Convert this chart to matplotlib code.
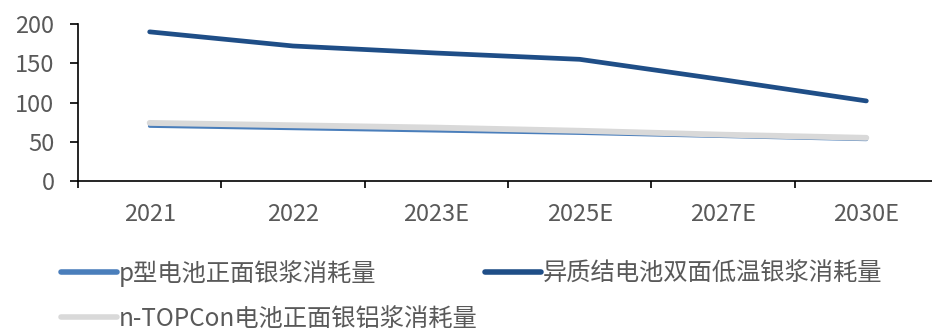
"""Silver paste consumption by cell technology, 2021-2030E."""

import matplotlib.pyplot as plt
import numpy as np

plt.rcParams["font.family"] = ["Noto Sans CJK SC", "DejaVu Sans"]

years = ["2021", "2022", "2023E", "2025E", "2027E", "2030E"]
p_type = [70, 67, 64, 61, 57, 53]
hjt = [190, 172, 163, 155, 129, 102]
topcon = [74, 71, 68, 64, 59, 55]

labels = ["p型电池正面银浆消耗量", "异质结电池双面低温银浆消耗量", "n-TOPCon电池正面银铝浆消耗量"]
colors = ["#4a7ebb", "#1f4e87", "#d9d9d9"]
text_color = "#595959"

fig = plt.figure(figsize=(9.32, 3.30), dpi=100)
ax = fig.add_axes([78 / 932, 149 / 330, 860 / 932, 157 / 330])

x = np.arange(len(years))
l1, = ax.plot(x, p_type, color=colors[0], linewidth=2.6, solid_capstyle="round", zorder=3)
l2, = ax.plot(x, hjt, color=colors[1], linewidth=3.4, solid_capstyle="round", zorder=3)
l3, = ax.plot(x, topcon, color=colors[2], linewidth=4.2, solid_capstyle="round", zorder=4)

ax.set_xlim(-0.5, len(years) - 0.5)
ax.set_ylim(0, 200)
ax.set_yticks([0, 50, 100, 150, 200])

# category ticks sit on the boundaries, labels in the middle
ax.set_xticks(np.arange(len(years) + 1) - 0.5)
ax.set_xticklabels([])
ax.set_xticks(x, minor=True)
ax.set_xticklabels(years, minor=True)
ax.tick_params(axis="x", which="major", length=5, width=1.2, direction="out", color="black")
ax.tick_params(axis="x", which="minor", length=0, pad=16, labelsize=17, labelcolor=text_color)
ax.tick_params(axis="y", length=6, width=1.2, direction="out", pad=11, labelsize=17,
               labelcolor=text_color)

for side in ["top", "right"]:
    ax.spines[side].set_visible(False)
for side in ["left", "bottom"]:
    ax.spines[side].set_linewidth(1.2)
    ax.spines[side].set_color("black")

leg = fig.legend(
    [l1, l3, l2],
    [labels[0], labels[2], labels[1]],
    ncol=2,
    loc="upper left",
    bbox_to_anchor=(61 / 932, 1 - 260 / 330),
    frameon=False,
    fontsize=17.5,
    handlelength=2.3,
    handletextpad=0.08,
    columnspacing=0.3,
    labelspacing=0.78,
    borderpad=0,
    borderaxespad=0,
)
for t in leg.get_texts():
    t.set_color(text_color)
for h in leg.legend_handles:
    h.set_solid_capstyle("round")
    h.set_linewidth(4)

fig.savefig("out.png", dpi=100)
